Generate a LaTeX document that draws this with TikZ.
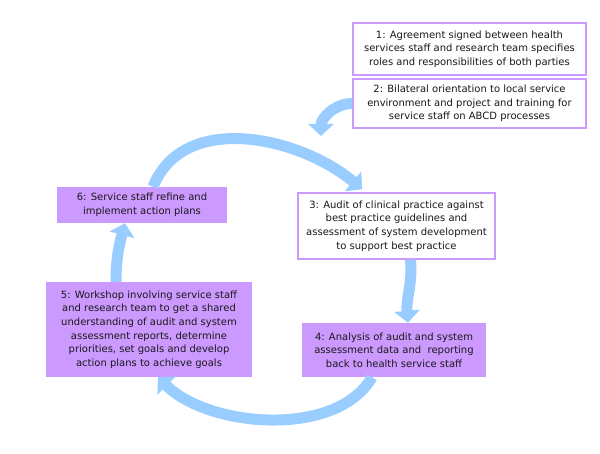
\documentclass[tikz,border=0pt]{standalone}
\usepackage{fontspec}
\setmainfont{DejaVu Sans}
\usetikzlibrary{arrows.meta}
\definecolor{boxlilac}{RGB}{204,153,255}
\definecolor{loopblue}{RGB}{153,204,255}
\begin{document}
\begin{tikzpicture}[x=1pt,y=1pt,
  stage/.style={align=center, inner sep=0pt, text=black!90, font=\fontsize{10}{13.7}\selectfont},
  openstage/.style={stage, draw=boxlilac, line width=1.6pt, fill=white},
  workstage/.style={stage, fill=boxlilac},
  loop/.style={loopblue, line width=11pt, -{Triangle[width=25pt,length=12pt]}}]
  \useasboundingbox (0,0) rectangle (600,454);
  \node[openstage, minimum width=233pt, minimum height=52pt] (agree) at (469.5,405)
    {1: Agreement signed between health\\services staff and research team specifies\\roles and responsibilities of both parties};
  \node[openstage, minimum width=233pt, minimum height=49pt] (orient) at (469.5,350.5)
    {2: Bilateral orientation to local service\\environment and project and training for\\service staff on ABCD processes};
  \node[openstage, minimum width=197pt, minimum height=66pt] (audit) at (396.5,228)
    {3: Audit of clinical practice against\\best practice guidelines and\\assessment of system development\\to support best practice};
  \node[workstage, minimum width=184pt, minimum height=54pt] (analysis) at (394,104)
    {4: Analysis of audit and system\\assessment data and~ reporting\\back to health service staff};
  \node[workstage, minimum width=206pt, minimum height=95pt] (workshop) at (149,124.5)
    {5: Workshop involving service staff\\and research team to get a shared\\understanding of audit and system\\assessment reports, determine\\priorities, set goals and develop\\action plans to achieve goals};
  \node[workstage, minimum width=170pt, minimum height=36pt] (refine) at (142,249)
    {6: Service staff refine and\\implement action plans};
  \coordinate (entry) at (321,318);
  \draw[loop] (orient.west) to[out=180, in=90] (entry);
  \draw[loop] ([xshift=11pt]refine.north) to[out=68, in=140] ([xshift=65pt,yshift=3pt]audit.north west);
  \draw[loop] ([xshift=14pt]audit.south) to[out=-85, in=95] ([xshift=14pt]analysis.north);
  \draw[loop] ([xshift=-22pt]analysis.south) to[out=-120, in=-45, looseness=0.85] ([xshift=9pt]workshop.south);
  \draw[loop] ([xshift=-33pt]workshop.north) to[out=90, in=-105] ([xshift=-17pt]refine.south);
\end{tikzpicture}
\end{document}
